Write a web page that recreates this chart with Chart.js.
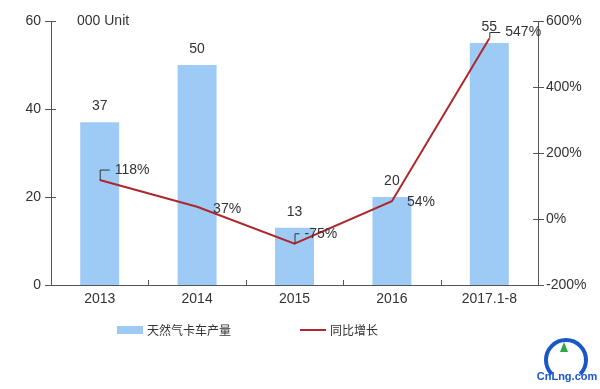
<!DOCTYPE html>
<html><head><meta charset="utf-8">
<script src="https://cdn.jsdelivr.net/npm/chart.js@4/dist/chart.umd.min.js"></script>
<style>html,body{margin:0;padding:0;background:#fff}#wrap{width:600px;height:389px;position:relative}</style>
</head><body><div id="wrap"><canvas id="c" width="600" height="389"></canvas></div>
<script>
const categories = ['2013', '2014', '2015', '2016', '2017.1-8'];
const production = [37, 50, 13, 20, 55];
const growth = [118, 37, -75, 54, 547];
const growthLabels = ['118%', '37%', '-75%', '54%', '547%'];
const leftTicks = [0, 20, 40, 60];
const rightTicks = [-200, 0, 200, 400, 600];
const seriesNames = ['天然气卡车产量', '同比增长'];
const unitLabel = '000 Unit';

const FONT = '"Liberation Sans", Arial, sans-serif';
const CJK = '"Noto Sans CJK SC", "Liberation Sans", sans-serif';
const BAR = '#9DCBF6';
const LINE = '#AE272C';
const AXIS = '#555555';
const TXT = '#333333';

// per-label placement for the growth labels: [dx, dy, bracket]
const lineLabelPlace = [[15, -10, true], [16, 2, false], [10, -10, true], [15, 1, false], [16, -6, true]];

const overlay = {
  id: 'overlay',
  afterDatasetsDraw(chart) {
    const ctx = chart.ctx;
    const x = chart.scales.x, yl = chart.scales.y, yr = chart.scales.y1;
    const area = chart.chartArea;
    ctx.save();
    ctx.strokeStyle = AXIS; ctx.lineWidth = 1;
    for (let i = 1; i < categories.length; i++) {
      const px = Math.round((x.getPixelForValue(i - 1) + x.getPixelForValue(i)) / 2) + 0.5;
      ctx.beginPath(); ctx.moveTo(px, area.bottom); ctx.lineTo(px, area.bottom - 5); ctx.stroke();
    }
    leftTicks.forEach(v => { const py = Math.round(yl.getPixelForValue(v)) + 0.5; ctx.beginPath(); ctx.moveTo(area.left - 6, py); ctx.lineTo(area.left + 5, py); ctx.stroke(); });
    rightTicks.forEach(v => { const py = Math.round(yr.getPixelForValue(v)) + 0.5; ctx.beginPath(); ctx.moveTo(area.right - 5, py); ctx.lineTo(area.right + 6, py); ctx.stroke(); });

    ctx.font = '14px ' + FONT; ctx.fillStyle = TXT; ctx.textBaseline = 'middle';
    production.forEach((v, i) => {
      ctx.textAlign = 'center';
      ctx.fillText(String(v), x.getPixelForValue(i), yl.getPixelForValue(v) - 16);
    });
    growth.forEach((v, i) => {
      const px = x.getPixelForValue(i), py = yr.getPixelForValue(v);
      const [dx, dy, br] = lineLabelPlace[i];
      if (br) {
        ctx.strokeStyle = '#333'; ctx.lineWidth = 1;
        ctx.beginPath(); ctx.moveTo(px + 0.5, py); ctx.lineTo(px + 0.5, py + dy); ctx.lineTo(px + dx - 5, py + dy); ctx.stroke();
      }
      ctx.textAlign = 'left';
      ctx.fillText(growthLabels[i], px + dx, py + dy);
    });
    ctx.textAlign = 'left';
    ctx.fillText(unitLabel, 77, 21);
    const ly = 330;
    ctx.fillStyle = BAR; ctx.fillRect(117, ly - 4, 26, 8);
    ctx.fillStyle = TXT; ctx.font = '12px ' + CJK;
    ctx.fillText(seriesNames[0], 147, ly);
    ctx.strokeStyle = LINE; ctx.lineWidth = 2;
    ctx.beginPath(); ctx.moveTo(300, ly); ctx.lineTo(326, ly); ctx.stroke();
    ctx.fillText(seriesNames[1], 330, ly);
    // watermark approximation
    ctx.strokeStyle = '#1a56c8'; ctx.lineWidth = 4;
    ctx.beginPath(); ctx.arc(566, 360, 20, Math.PI * 0.75, Math.PI * 2.25); ctx.stroke();
    ctx.fillStyle = '#2aa84a'; ctx.beginPath(); ctx.moveTo(564, 342); ctx.lineTo(568, 352); ctx.lineTo(560, 352); ctx.closePath(); ctx.fill();
    ctx.fillStyle = '#1a56c8'; ctx.font = 'bold 11px ' + FONT; ctx.textAlign = 'center';
    ctx.fillText('CnLng.com', 567, 377);
    ctx.restore();
  }
};

new Chart(document.getElementById('c'), {
  data: {
    labels: categories,
    datasets: [
      { type: 'line', label: seriesNames[1], data: growth, yAxisID: 'y1', borderColor: LINE, borderWidth: 2, pointRadius: 0, tension: 0, order: 0 },
      { type: 'bar', label: seriesNames[0], data: production, yAxisID: 'y', backgroundColor: BAR, categoryPercentage: 1, barPercentage: 0.4, order: 1 }
    ]
  },
  options: {
    responsive: false, animation: false, devicePixelRatio: 1,
    layout: { padding: { top: 21, left: 0, right: 0, bottom: 0 } },
    plugins: { legend: { display: false }, tooltip: { enabled: false } },
    scales: {
      x: {
        offset: true,
        grid: { display: false, drawTicks: false },
        border: { display: true, color: AXIS, width: 1 },
        ticks: { color: TXT, font: { family: FONT, size: 14 }, padding: 6, maxRotation: 0 },
        afterFit(s) { s.height = 104; }
      },
      y: {
        position: 'left', min: 0, max: 60,
        afterBuildTicks(s) { s.ticks = leftTicks.map(v => ({ value: v })); },
        grid: { display: false, drawTicks: false },
        border: { display: true, color: AXIS, width: 1 },
        ticks: { color: TXT, font: { family: FONT, size: 14 }, padding: 10 },
        afterFit(s) { s.width = 51; }
      },
      y1: {
        position: 'right', min: -200, max: 600,
        afterBuildTicks(s) { s.ticks = rightTicks.map(v => ({ value: v })); },
        grid: { display: false, drawTicks: false },
        border: { display: true, color: AXIS, width: 1 },
        ticks: { color: TXT, font: { family: FONT, size: 14 }, padding: 8, callback: v => v + '%' },
        afterFit(s) { s.width = 62; }
      }
    }
  },
  plugins: [overlay]
});
</script></body></html>
